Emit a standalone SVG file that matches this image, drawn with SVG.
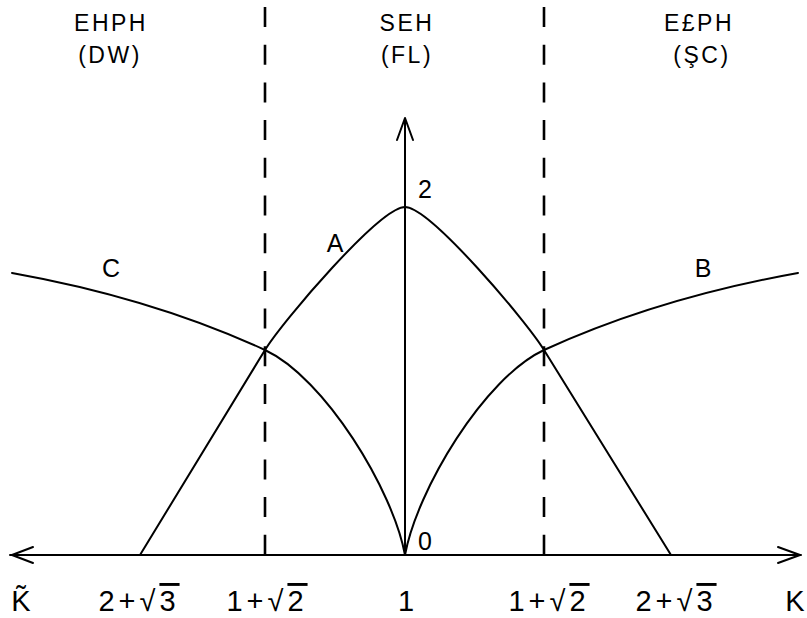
<svg xmlns="http://www.w3.org/2000/svg" width="807" height="618" viewBox="0 0 807 618">
<style>
.ln{fill:none;stroke:#000;stroke-width:2;stroke-linecap:round;stroke-linejoin:round}
.ds{fill:none;stroke:#000;stroke-width:2.6;stroke-dasharray:20 17.7}
.t{font-family:"Liberation Sans","DejaVu Sans",sans-serif;fill:#000;text-anchor:middle}
.top{font-size:23px;letter-spacing:2.5px}
.lab{font-size:25px}
.bot{font-size:29px;letter-spacing:4px}
.k{font-size:29px}
.ov{text-decoration:overline}
</style>
<rect width="807" height="618" fill="#fff"/>
<g id="axes">
<path class="ln" d="M10,555 H801"/>
<path class="ln" d="M33,547 L12,555 L33,563"/>
<path class="ln" d="M778,547 L800,555 L778,563"/>
<path class="ln" d="M405,555 V119"/>
<path class="ln" d="M397,140 L405,118 L413,140"/>
</g>
<g id="boundaries">
<path class="ds" d="M265,7 V555"/>
<path class="ds" d="M544,7 V555"/>
</g>
<g id="curves">
<path id="curveA" class="ln" d="M140,555 L265,350 C282,322 380,207 405,207 C430,207 527,322 544,350 L671,555"/>
<path id="curveC" class="ln" d="M12,273 Q152,298 265,350 C325,378 393,490 405,555"/>
<path id="curveB" class="ln" d="M798,273 Q658,298 544,350 C484,378 417,490 405,555"/>
</g>
<g id="labels">
<text class="t top" x="111" y="31">EHPH</text>
<text class="t top" x="110" y="63">(DW)</text>
<text class="t top" x="407" y="31">SEH</text>
<text class="t top" x="407" y="63">(FL)</text>
<text class="t top" x="699" y="31">E£PH</text>
<text class="t top" x="702" y="63">(ŞC)</text>
<text class="t lab" x="335" y="252">A</text>
<text class="t lab" x="425" y="198">2</text>
<text class="t lab" x="111" y="277">C</text>
<text class="t lab" x="703" y="277">B</text>
<text class="t lab" x="425" y="550">0</text>
</g>
<g id="ticks">
<text class="t k" x="21" y="611">K̃</text>
<text class="t bot" x="139" y="611">2+√<tspan class="ov">3</tspan></text>
<text class="t bot" x="267" y="611">1+√<tspan class="ov">2</tspan></text>
<text class="t k" x="406" y="611">1</text>
<text class="t bot" x="549" y="611">1+√<tspan class="ov">2</tspan></text>
<text class="t bot" x="676" y="611">2+√<tspan class="ov">3</tspan></text>
<text class="t k" x="795" y="611">K</text>
</g>
</svg>
